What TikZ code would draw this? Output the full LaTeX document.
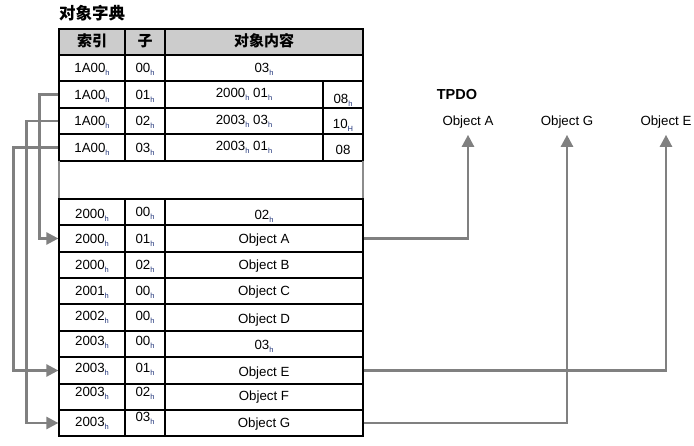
\documentclass[tikz,border=0pt]{standalone}
\usepackage{fontspec}
\setmainfont{Liberation Sans}
\newfontfamily\cjk{Noto Sans CJK SC}
\usetikzlibrary{arrows.meta}
\definecolor{subc}{RGB}{30,50,120}
\definecolor{connc}{RGB}{128,128,128}
\definecolor{gapc}{RGB}{140,140,140}
\definecolor{hdrc}{RGB}{204,204,204}
\newcommand\hh{{\fontsize{7.5}{8}\selectfont\raisebox{-3pt}{\color{subc}h}}}
\newcommand\HH{{\fontsize{7.5}{8}\selectfont\raisebox{-3pt}{\color{subc}H}}}
% \cellbox{name}{x}{y}{w}{h}{text}
\newcommand\cellbox[6]{\node[cell, minimum width=#4pt, minimum height=#5pt] (#1) at ({#2+#4/2},{#3+#5/2}) {#6};}
\newcommand\hdrbox[6]{\node[cell, hdr, minimum width=#4pt, minimum height=#5pt] (#1) at ({#2+#4/2},{#3+#5/2}) {#6};}
\begin{document}
\begin{tikzpicture}[x=1pt,y=-1pt,
  every node/.style={font=\fontsize{13.3}{15}\selectfont},
  cell/.style={draw=black, line width=1.2pt, inner sep=0pt, text height=10pt, text depth=0.5pt},
  hdr/.style={fill=hdrc, font=\cjk\bfseries\fontsize{15}{17}\selectfont},
  lbl/.style={inner sep=0pt, text height=9.5pt, text depth=2.8pt},
  conn/.style={draw=connc, line width=2.5pt, -{Triangle[length=12pt,width=12pt]}},
  gapline/.style={draw=gapc, line width=1.2pt}]
\useasboundingbox (0,0) rectangle (694,446);
% title
\node[anchor=west, inner sep=0pt, font=\cjk\bfseries\fontsize{16.5}{18}\selectfont] (title) at (59,13) {对象字典};
% header
\hdrbox{hA}{59}{29}{66}{26}{索引}
\hdrbox{hB}{125}{29}{40}{26}{子}
\hdrbox{hC}{165}{29}{198}{26}{对象内容}
% 1A00 rows
\cellbox{p0a}{59}{55}{66}{26}{1A00\hh}
\cellbox{p0b}{125}{55}{40}{26}{00\hh}
\cellbox{p0c}{165}{55}{198}{26}{03\hh}
\cellbox{p1a}{59}{81}{66}{27}{1A00\hh}
\cellbox{p1b}{125}{81}{40}{27}{01\hh}
\cellbox{p1c}{165}{81}{158}{27}{\raisebox{1.5pt}{2000\hh{} 01\hh}}
\cellbox{p1d}{323}{81}{40}{27}{\raisebox{-4pt}{08\hh}}
\cellbox{p2a}{59}{108}{66}{26}{1A00\hh}
\cellbox{p2b}{125}{108}{40}{26}{02\hh}
\cellbox{p2c}{165}{108}{158}{26}{\raisebox{1.5pt}{2003\hh{} 03\hh}}
\cellbox{p2d}{323}{108}{40}{26}{\raisebox{-3pt}{10\HH}}
\cellbox{p3a}{59}{134}{66}{27}{1A00\hh}
\cellbox{p3b}{125}{134}{40}{27}{03\hh}
\cellbox{p3c}{165}{134}{158}{27}{\raisebox{1.5pt}{2003\hh{} 01\hh}}
\cellbox{p3d}{323}{134}{40}{27}{\raisebox{-2pt}{08}}
% gap
\draw[gapline] (59,161) -- (59,199);
\draw[gapline] (363,161) -- (363,199);
% object rows
\cellbox{q0a}{59}{199}{66}{26}{\raisebox{-2pt}{2000\hh}}
\cellbox{q0b}{125}{199}{40}{26}{00\hh}
\cellbox{q0c}{165}{199}{198}{26}{\raisebox{-3pt}{02\hh}}
\cellbox{q1a}{59}{225}{66}{27}{2000\hh}
\cellbox{q1b}{125}{225}{40}{27}{01\hh}
\cellbox{q1c}{165}{225}{198}{27}{Object A}
\cellbox{q2a}{59}{252}{66}{26}{2000\hh}
\cellbox{q2b}{125}{252}{40}{26}{02\hh}
\cellbox{q2c}{165}{252}{198}{26}{Object B}
\cellbox{q3a}{59}{278}{66}{26}{2001\hh}
\cellbox{q3b}{125}{278}{40}{26}{00\hh}
\cellbox{q3c}{165}{278}{198}{26}{Object C}
\cellbox{q4a}{59}{304}{66}{27}{\raisebox{1.5pt}{2002\hh}}
\cellbox{q4b}{125}{304}{40}{27}{\raisebox{1.5pt}{00\hh}}
\cellbox{q4c}{165}{304}{198}{27}{\raisebox{-1.5pt}{Object D}}
\cellbox{q5a}{59}{331}{66}{26}{\raisebox{3pt}{2003\hh}}
\cellbox{q5b}{125}{331}{40}{26}{\raisebox{3pt}{00\hh}}
\cellbox{q5c}{165}{331}{198}{26}{\raisebox{-1pt}{03\hh}}
\cellbox{q6a}{59}{357}{66}{27}{\raisebox{3pt}{2003\hh}}
\cellbox{q6b}{125}{357}{40}{27}{\raisebox{3pt}{01\hh}}
\cellbox{q6c}{165}{357}{198}{27}{\raisebox{-1pt}{Object E}}
\cellbox{q7a}{59}{384}{66}{26}{\raisebox{5pt}{2003\hh}}
\cellbox{q7b}{125}{384}{40}{26}{\raisebox{5pt}{02\hh}}
\cellbox{q7c}{165}{384}{198}{26}{\raisebox{1pt}{Object F}}
\cellbox{q8a}{59}{410}{66}{26}{\raisebox{1pt}{2003\hh}}
\cellbox{q8b}{125}{410}{40}{26}{\raisebox{6pt}{03\hh}}
\cellbox{q8c}{165}{410}{198}{26}{Object G}
% TPDO
\node[inner sep=0pt, font=\bfseries\fontsize{14.5}{16}\selectfont] (tpdo) at (457,95) {TPDO};
\node[lbl] (tA) at (468,122) {Object A};
\node[lbl] (tG) at (567,122) {Object G};
\node[lbl] (tE) at (666,122) {Object E};
% left connectors
\draw[conn] (p1a.west) -- ++(-19,0) |- (q1a.west);
\draw[conn] (p2a.west) -- ++(-32,0) |- (q8a.west);
\draw[conn] (p3a.west) -- ++(-45,0) |- (q6a.west);
% right connectors
\draw[conn] (q1c.east) -| ([yshift=-6.5pt]tA.south);
\draw[conn] (q8c.east) -| ([yshift=-6.5pt]tG.south);
\draw[conn] (q6c.east) -| ([yshift=-6.5pt]tE.south);
\end{tikzpicture}
\end{document}
